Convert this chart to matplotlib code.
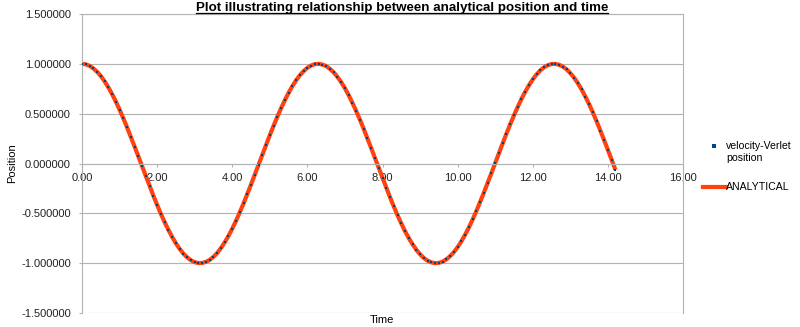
import matplotlib
matplotlib.use('Agg')
import matplotlib.pyplot as plt
from matplotlib.lines import Line2D
from matplotlib.ticker import FormatStrFormatter

plt.rcParams['font.family'] = ['Liberation Sans', 'DejaVu Sans']

time = [0.0, 0.1, 0.2, 0.3, 0.4, 0.5, 0.6, 0.7, 0.8, 0.9,
        1.0, 1.1, 1.2, 1.3, 1.4, 1.5, 1.6, 1.7, 1.8, 1.9,
        2.0, 2.1, 2.2, 2.3, 2.4, 2.5, 2.6, 2.7, 2.8, 2.9,
        3.0, 3.1, 3.2, 3.3, 3.4, 3.5, 3.6, 3.7, 3.8, 3.9,
        4.0, 4.1, 4.2, 4.3, 4.4, 4.5, 4.6, 4.7, 4.8, 4.9,
        5.0, 5.1, 5.2, 5.3, 5.4, 5.5, 5.6, 5.7, 5.8, 5.9,
        6.0, 6.1, 6.2, 6.3, 6.4, 6.5, 6.6, 6.7, 6.8, 6.9,
        7.0, 7.1, 7.2, 7.3, 7.4, 7.5, 7.6, 7.7, 7.8, 7.9,
        8.0, 8.1, 8.2, 8.3, 8.4, 8.5, 8.6, 8.7, 8.8, 8.9,
        9.0, 9.1, 9.2, 9.3, 9.4, 9.5, 9.6, 9.7, 9.8, 9.9,
        10.0, 10.1, 10.2, 10.3, 10.4, 10.5, 10.6, 10.7, 10.8, 10.9,
        11.0, 11.1, 11.2, 11.3, 11.4, 11.5, 11.6, 11.7, 11.8, 11.9,
        12.0, 12.1, 12.2, 12.3, 12.4, 12.5, 12.6, 12.7, 12.8, 12.9,
        13.0, 13.1, 13.2, 13.3, 13.4, 13.5, 13.6, 13.7, 13.8, 13.9,
        14.0, 14.1, 14.2]

# analytical position
analytical = [1.000, 0.995, 0.980, 0.955, 0.921, 0.878, 0.825, 0.765, 0.697, 0.622,
              0.540, 0.454, 0.362, 0.267, 0.170, 0.071, -0.029, -0.129, -0.227, -0.323,
              -0.416, -0.505, -0.589, -0.666, -0.737, -0.801, -0.857, -0.904, -0.942, -0.971,
              -0.990, -0.999, -0.998, -0.987, -0.967, -0.936, -0.897, -0.848, -0.791, -0.726,
              -0.654, -0.575, -0.490, -0.401, -0.307, -0.211, -0.112, -0.012, 0.088, 0.187,
              0.284, 0.378, 0.469, 0.554, 0.635, 0.709, 0.776, 0.835, 0.886, 0.927,
              0.960, 0.983, 0.997, 1.000, 0.993, 0.977, 0.950, 0.914, 0.869, 0.816,
              0.754, 0.685, 0.608, 0.526, 0.439, 0.347, 0.251, 0.153, 0.054, -0.046,
              -0.146, -0.244, -0.339, -0.431, -0.519, -0.602, -0.679, -0.749, -0.811, -0.865,
              -0.911, -0.948, -0.975, -0.992, -1.000, -0.997, -0.985, -0.962, -0.930, -0.889,
              -0.839, -0.781, -0.714, -0.641, -0.561, -0.476, -0.385, -0.291, -0.194, -0.096,
              0.004, 0.104, 0.203, 0.300, 0.393, 0.483, 0.568, 0.648, 0.720, 0.786,
              0.844, 0.893, 0.934, 0.965, 0.986, 0.998, 0.999, 0.991, 0.973, 0.945,
              0.907, 0.861, 0.806, 0.743, 0.672, 0.595, 0.512, 0.423, 0.331, 0.235,
              0.137, 0.037, -0.063]

# velocity-Verlet points sit on top of the analytical curve
verlet = list(analytical)

x_ticks = [0, 2, 4, 6, 8, 10, 12, 14, 16]
y_ticks = [-1.5, -1.0, -0.5, 0.0, 0.5, 1.0, 1.5]

grey = '#b3b3b3'
orange = '#ff420e'
blue = '#004586'

fig = plt.figure(figsize=(8, 3.27), dpi=100)
ax = fig.add_axes([82/800, 1 - 313/327, 601/800, 299/327])

ax.plot(time, analytical, color=orange, lw=3.0, solid_capstyle='butt', zorder=2)
ax.plot(time, verlet, ls='none', marker='s', ms=1.6, color=blue, mew=0, zorder=3)

ax.set_xlim(0, 16)
ax.set_ylim(-1.5, 1.5)
ax.set_xticks(x_ticks)
ax.set_yticks(y_ticks)
ax.xaxis.set_major_formatter(FormatStrFormatter('%.2f'))
ax.yaxis.set_major_formatter(FormatStrFormatter('%.6f'))

ax.yaxis.grid(True, color=grey, lw=0.8)
ax.set_axisbelow(True)
ax.spines['bottom'].set_position(('data', 0))
for s in ax.spines.values():
    s.set_color(grey)
    s.set_linewidth(0.8)

ax.tick_params(axis='x', length=2.5, width=0.8, color=grey, pad=4, labelsize=8, labelcolor='#222222')
ax.tick_params(axis='y', length=2, width=0.8, color=grey, pad=6, labelsize=8, labelcolor='#222222')

fig.text(12/800, 1 - 163/327, 'Position', rotation=90, ha='center', va='center', fontsize=8)
fig.text(382/800, 1 - 320/327, 'Time', ha='center', va='center', fontsize=8)

title = fig.text(402/800, 1 - 11.5/327,
                 'Plot illustrating relationship between analytical position and time',
                 ha='center', va='baseline', fontsize=9.6, fontweight='bold')

# legend drawn by hand, outside the plot area
fig.add_artist(Line2D([714/800], [1 - 146/327], ls='none', marker='s', ms=2.2,
                      color=blue, mew=0, transform=fig.transFigure))
fig.text(726/800, 1 - 141/327, 'velocity-Verlet\nposition', ha='left', va='top',
         fontsize=7.6, linespacing=1.25)
fig.add_artist(Line2D([703/800, 726/800], [1 - 187/327, 1 - 187/327], color=orange,
                      lw=3.0, transform=fig.transFigure))
fig.text(726/800, 1 - 187/327, 'ANALYTICAL', ha='left', va='center', fontsize=7.6)

# underline the title
fig.canvas.draw()
bb = title.get_window_extent().transformed(fig.transFigure.inverted())
fig.add_artist(Line2D([bb.x0, bb.x1], [1 - 13.3/327, 1 - 13.3/327],
                      transform=fig.transFigure, color='black', lw=0.9))

fig.savefig('out.png', dpi=100)
